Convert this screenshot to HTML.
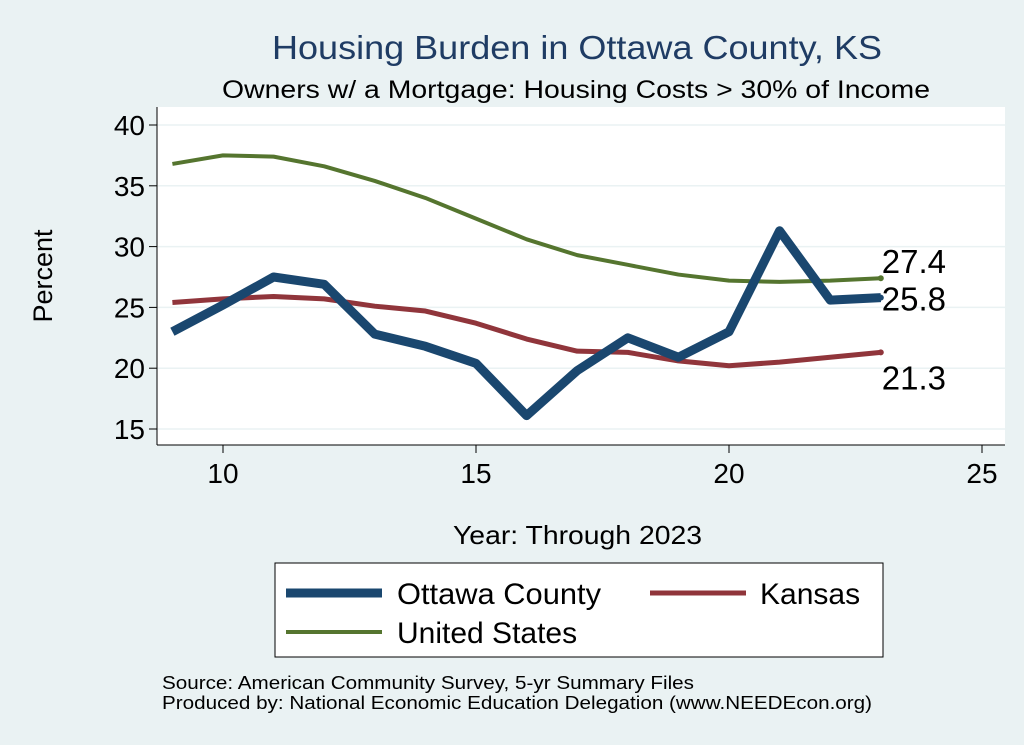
<!DOCTYPE html>
<html><head><meta charset="utf-8"><style>
body{margin:0;background:#eaf2f3;font-family:"Liberation Sans",sans-serif}
svg{display:block}
</style></head><body>
<svg id="chart" width="1024" height="745">
<rect x="0" y="0" width="1024" height="745" fill="#eaf2f3"/>
<text x="272" y="59" font-size="33" fill="#1f3c64" textLength="610" lengthAdjust="spacingAndGlyphs">Housing Burden in Ottawa County, KS</text>
<text x="222" y="98" font-size="25" fill="#000" textLength="708" lengthAdjust="spacingAndGlyphs">Owners w/ a Mortgage: Housing Costs &gt; 30% of Income</text>
<rect x="157" y="107" width="848" height="338" fill="#fff"/>
<g id="grid"></g><g id="axes"></g><g id="series"></g>
<text x="52" y="276" font-size="27" text-anchor="middle" transform="rotate(-90 52 276)">Percent</text>
<text x="453" y="544" font-size="26" textLength="249" lengthAdjust="spacingAndGlyphs">Year: Through 2023</text>
<g>
<rect x="275" y="563" width="608" height="94" fill="#fff" stroke="#000" stroke-width="1"/>
<line x1="286" y1="593" x2="382" y2="593" stroke="#1a476f" stroke-width="9"/>
<text x="397" y="604" font-size="30" textLength="204" lengthAdjust="spacingAndGlyphs">Ottawa County</text>
<line x1="650" y1="593" x2="746" y2="593" stroke="#90353b" stroke-width="5"/>
<text x="760" y="604" font-size="30">Kansas</text>
<line x1="286" y1="632" x2="382" y2="632" stroke="#55752f" stroke-width="4"/>
<text x="397" y="643" font-size="30">United States</text>
</g>
<text x="162" y="689" font-size="18" textLength="532" lengthAdjust="spacingAndGlyphs">Source: American Community Survey, 5-yr Summary Files</text>
<text x="162" y="709" font-size="18" textLength="710" lengthAdjust="spacingAndGlyphs">Produced by: National Economic Education Delegation (www.NEEDEcon.org)</text>
</svg>
<script>
const years=[9,10,11,12,13,14,15,16,17,18,19,20,21,22,23];
const ottawa=[23.0,25.2,27.5,26.9,22.8,21.8,20.4,16.1,19.8,22.5,20.9,23.0,31.3,25.6,25.8];
const kansas=[25.4,25.7,25.9,25.7,25.1,24.7,23.7,22.4,21.4,21.3,20.6,20.2,20.5,20.9,21.3];
const us=[36.8,37.5,37.4,36.6,35.4,34.0,32.3,30.6,29.3,28.5,27.7,27.2,27.1,27.2,27.4];
const yTicks=[15,20,25,30,35,40];
const xTicks=[10,15,20,25];
const NS="http://www.w3.org/2000/svg";
const X=v=>223+(v-10)*50.6;
const Y=v=>429-(v-15)*12.16;
function mk(tag,attrs,parent){const e=document.createElementNS(NS,tag);for(const k in attrs)e.setAttribute(k,attrs[k]);parent.appendChild(e);return e;}
const grid=document.getElementById('grid'),axes=document.getElementById('axes'),ser=document.getElementById('series');
mk('line',{x1:157,y1:107,x2:157,y2:445,stroke:'#000'},axes);
mk('line',{x1:157,y1:445,x2:1005,y2:445,stroke:'#000'},axes);
yTicks.forEach(t=>{
 const g=mk('line',{x1:157,x2:1005,y1:Y(t),y2:Y(t),stroke:'#eaf2f3','stroke-width':1.5},grid);
 
 mk('line',{x1:149,x2:157,y1:Y(t),y2:Y(t),stroke:'#000'},axes);
 const tx=mk('text',{x:145,y:Y(t)+10,'font-size':28,'text-anchor':'end'},axes);tx.textContent=t;
 
});
xTicks.forEach(t=>{
 mk('line',{x1:X(t),x2:X(t),y1:445,y2:453,stroke:'#000'},axes);
 const tx=mk('text',{x:X(t),y:483,'font-size':28,'text-anchor':'middle'},axes);tx.textContent=t;
 
});
function line(vals,color,w,name){
 const p=mk('polyline',{points:years.map((y,i)=>X(y)+','+Y(vals[i])).join(' '),fill:'none',stroke:color,'stroke-width':w,'stroke-linejoin':'round'},ser);
 
 const n=vals.length-1;
 mk('circle',{cx:X(years[n]),cy:Y(vals[n]),r:3,fill:color},ser);
}
line(us,'#55752f',4,'us-line');
line(kansas,'#90353b',5,'kansas-line');
line(ottawa,'#1a476f',9,'ottawa-line');
const n=years.length-1;
[[us[n],-5,'us-end-label'],[ottawa[n],13,'ottawa-end-label'],[kansas[n],37,'kansas-end-label']].forEach(([v,dy,name])=>{
 const t=mk('text',{x:X(years[n])+1,y:Y(v)+dy,'font-size':33},ser);t.textContent=v.toFixed(1);
 
});
</script>
</body></html>
